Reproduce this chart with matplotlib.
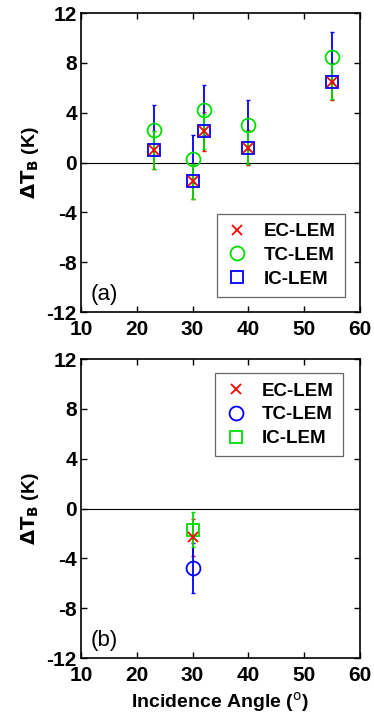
import matplotlib
matplotlib.use("Agg")
import matplotlib.pyplot as plt

plt.rcParams["font.family"] = ["Liberation Sans", "DejaVu Sans"]
plt.rcParams["axes.unicode_minus"] = False

# panel (a)
angles_a = [23, 30, 32, 40, 55]
ec_a = [1.0, -1.5, 2.5, 1.2, 6.5]
tc_a = [2.6, 0.3, 4.2, 3.0, 8.5]
ic_a = [1.0, -1.5, 2.5, 1.2, 6.5]
ec_err_a = [1.5, 1.4, 1.6, 1.4, 1.5]
tc_err_a = [2.0, 1.9, 2.0, 2.0, 2.0]
ic_err_a = [1.5, 1.4, 1.4, 1.3, 1.4]

# panel (b)
angles_b = [30]
ec_b = [-2.3]
tc_b = [-4.8]
ic_b = [-1.7]
ec_err_b = [1.5]
tc_err_b = [2.0]
ic_err_b = [1.4]

xticks = [10, 20, 30, 40, 50, 60]
yticks = [-12, -8, -4, 0, 4, 8, 12]
labels = ["EC-LEM", "TC-LEM", "IC-LEM"]


def draw_panel(ax, x, ec, tc, ic, ec_err, tc_err, ic_err, tc_color, ic_color, tag, legend_kw):
    # error bars: EC red underneath, then TC blue, IC green on top
    ax.errorbar(x, ec, yerr=ec_err, fmt="none", ecolor="#ff0000", elinewidth=1.3, capsize=1.5, zorder=1.9)
    ax.errorbar(x, tc, yerr=tc_err, fmt="none", ecolor="#0000ff", elinewidth=1.3, capsize=1.5, zorder=2)
    ax.errorbar(x, ic, yerr=ic_err, fmt="none", ecolor="#00dd00", elinewidth=1.3, capsize=1.5, zorder=2.2)
    ax.axhline(0, color="black", linewidth=0.8, zorder=1)
    h1, = ax.plot(x, ec, "x", color="#ff0000", markersize=7, markeredgewidth=1.3, linestyle="none", zorder=4)
    h2, = ax.plot(x, tc, "o", color=tc_color, markerfacecolor="none", markersize=10,
                  markeredgewidth=1.3, linestyle="none", zorder=3)
    h3, = ax.plot(x, ic, "s", color=ic_color, markerfacecolor="none", markersize=9,
                  markeredgewidth=1.3, linestyle="none", zorder=3)
    ax.set_xlim(10, 60)
    ax.set_ylim(-12, 12)
    ax.set_xticks(xticks)
    ax.set_yticks(yticks)
    ax.tick_params(direction="in", top=True, right=True, length=4, width=1, labelsize=15)
    ax.tick_params(axis="x", pad=6)
    ax.tick_params(axis="y", pad=3)
    for lab in ax.get_xticklabels() + ax.get_yticklabels():
        lab.set_fontweight("bold")
    for sp in ax.spines.values():
        sp.set_linewidth(1.2)
    ax.set_ylabel(r"$\mathbf{\Delta}$$\mathbf{T_B}$ (K)", fontsize=14, fontweight="bold", labelpad=4)
    ax.text(0.035, 0.025, tag, transform=ax.transAxes, fontsize=16, ha="left", va="bottom")
    leg = ax.legend([h1, h2, h3], labels, prop={"size": 13.5, "weight": "bold"}, fancybox=False,
                    edgecolor="#404040", handlelength=1.2, handletextpad=0.8, borderpad=0.5,
                    labelspacing=0.35, borderaxespad=0, **legend_kw)
    leg.get_frame().set_linewidth(0.9)


fig = plt.figure(figsize=(3.74, 7.15), dpi=100)
ax_a = fig.add_axes([0.2166, 0.5636, 0.746, 0.418])
ax_b = fig.add_axes([0.2166, 0.0797, 0.746, 0.418])

draw_panel(ax_a, angles_a, ec_a, tc_a, ic_a, ec_err_a, tc_err_a, ic_err_a,
           "#00dd00", "#0000ff", "(a)",
           dict(loc="lower right", bbox_to_anchor=(0.945, 0.05)))
draw_panel(ax_b, angles_b, ec_b, tc_b, ic_b, ec_err_b, tc_err_b, ic_err_b,
           "#0000ff", "#00dd00", "(b)",
           dict(loc="upper right", bbox_to_anchor=(0.94, 0.953)))
ax_b.set_xlabel("Incidence Angle ($^{\\mathrm{o}}$)", fontsize=14, fontweight="bold", labelpad=3)

fig.savefig("out.png", dpi=100)
